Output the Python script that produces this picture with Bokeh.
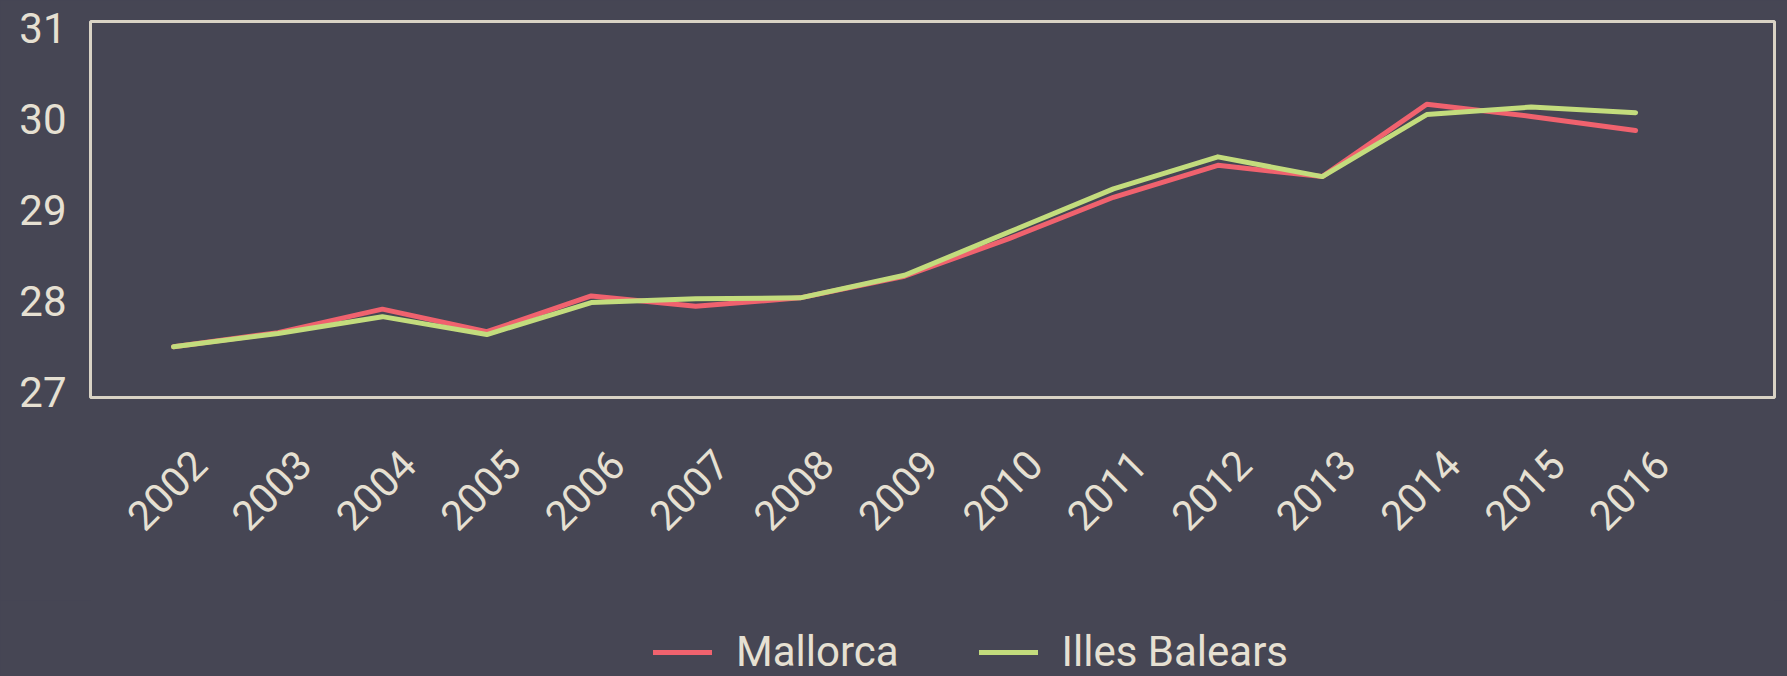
import math
from bokeh.plotting import figure
from bokeh.layouts import column
from bokeh.models import Range1d, FixedTicker, Legend, LegendItem, LinearAxis
from bokeh.embed import file_html
from bokeh.resources import INLINE

years = list(range(2002, 2017))
mallorca = [27.54, 27.69, 27.94, 27.70, 28.08, 27.97, 28.06, 28.29, 28.69, 29.13, 29.47, 29.35, 30.12, 29.99, 29.84]
illes_balears = [27.54, 27.68, 27.86, 27.67, 28.01, 28.05, 28.06, 28.30, 28.76, 29.22, 29.56, 29.35, 30.01, 30.09, 30.03]
y_ticks = [27, 28, 29, 30, 31]
series_names = ["Mallorca", "Illes Balears"]

BG = "#464654"
TEXT = "#e6e0d2"
FRAME = "#d9d3c5"
RED = "#f0626e"
GREEN = "#c3dc7d"
FONT = "Roboto"

X0, X1 = 2001.205, 2017.33
LABEL_SHIFT = 0.25  # rotated labels sit centred under their year, as in the reference

# ---- main chart ----
p = figure(width=1787, height=600, output_backend="svg", toolbar_location=None,
           x_range=Range1d(X0, X1), y_range=Range1d(27, 31),
           x_axis_location=None, y_axis_location=None,
           min_border_left=90, min_border_right=13, min_border_top=21, min_border_bottom=203)
p.extra_x_ranges = {"labels": Range1d(X0 - LABEL_SHIFT, X1 - LABEL_SHIFT)}
# tick labels of the reference are spread a little inside the frame
p.extra_y_ranges = {"ylabels": Range1d(26.937, 31.074)}
p.background_fill_color = BG
p.border_fill_color = BG
p.outline_line_color = FRAME
p.outline_line_width = 3
p.grid.visible = False

r1 = p.line(years, mallorca, line_color=RED, line_width=5, line_cap="round", line_join="round")
r2 = p.line(years, illes_balears, line_color=GREEN, line_width=5, line_cap="round", line_join="round")

xaxis = LinearAxis(x_range_name="labels")
p.add_layout(xaxis, "below")
yaxis = LinearAxis(y_range_name="ylabels")
p.add_layout(yaxis, "left")

for ax in (xaxis, yaxis):
    ax.axis_line_color = None
    ax.major_tick_line_color = None
    ax.minor_tick_line_color = None
    ax.major_tick_out = 0
    ax.major_tick_in = 0
    ax.major_label_text_color = TEXT
    ax.major_label_text_font = FONT

yaxis.ticker = FixedTicker(ticks=y_ticks)
yaxis.major_label_text_font_size = "42px"
yaxis.major_label_standoff = 24

xaxis.ticker = FixedTicker(ticks=years)
xaxis.major_label_orientation = math.pi / 4
xaxis.major_label_text_font_size = "41px"
xaxis.major_label_standoff = 60

# ---- legend strip (its lines lie outside its view, only the legend shows) ----
pl = figure(width=1787, height=76, output_backend="svg", toolbar_location=None,
            x_range=Range1d(0, 1), y_range=Range1d(0, 1),
            x_axis_location=None, y_axis_location=None, min_border=0)
pl.background_fill_color = BG
pl.border_fill_color = BG
pl.outline_line_color = None
pl.grid.visible = False
k1 = pl.line(years, mallorca, line_color=RED, line_width=5, line_cap="round")
k2 = pl.line(years, illes_balears, line_color=GREEN, line_width=5, line_cap="round")

legend = Legend(items=[LegendItem(label=series_names[0], renderers=[k1]),
                       LegendItem(label=series_names[1], renderers=[k2])],
                orientation="horizontal", location=(563, 0))
legend.glyph_width = 59
legend.label_standoff = 24
legend.spacing = 80
legend.padding = 0
legend.margin = 0
legend.background_fill_alpha = 0
legend.border_line_color = None
legend.label_text_color = TEXT
legend.label_text_font = FONT
legend.label_text_font_size = "42px"
pl.add_layout(legend)

layout = column(p, pl, spacing=0)

html = file_html(layout, INLINE)
html = html.replace("</head>", "<style>html, body { background: %s; }</style></head>" % BG, 1)
open("out.html", "w").write(html)
